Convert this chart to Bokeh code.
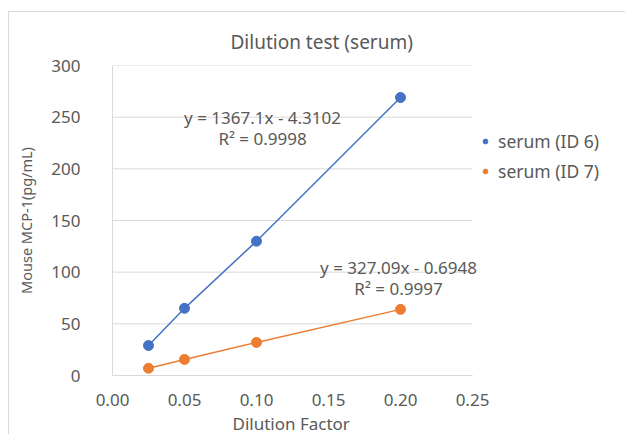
from bokeh.plotting import figure
from bokeh.models import Legend, LegendItem, NumeralTickFormatter, Range1d, FixedTicker, Title
from bokeh.core.properties import value
from bokeh.embed import file_html
from bokeh.resources import INLINE

# ---- data ----
title_text = "Dilution test (serum)"
x_label = "Dilution Factor"
y_label = "Mouse MCP-1(pg/mL)"
dilution = [0.025, 0.05, 0.1, 0.2]
id6_values = [29.0, 65.0, 130.0, 269.0]
id7_values = [7.0, 15.5, 32.0, 64.0]
series_names = ["serum (ID 6)", "serum (ID 7)"]
eq_id6 = ["y = 1367.1x - 4.3102", "R\u00b2 = 0.9998"]
eq_id7 = ["y = 327.09x - 0.6948", "R\u00b2 = 0.9997"]
x_ticks = [0.0, 0.05, 0.10, 0.15, 0.20, 0.25]
y_ticks = [0, 50, 100, 150, 200, 250, 300]
x_min, x_max = 0.0, 0.25
y_min, y_max = 0, 300

FONT = "Noto Sans"
TXT = "#595959"
BLUE = "#4472C4"
ORANGE = "#ED7D31"
GRID = "#d9d9d9"

W, H = 617, 423
LEFT, TOP, BOTTOM = 103, 53, 60
AXIS_PX = 360  # pixel length of the 0..0.25 axis
frame_w = W - LEFT
x_end = x_min + (x_max - x_min) * frame_w / AXIS_PX

p = figure(width=W, height=H, output_backend="svg", toolbar_location=None,
           x_range=Range1d(x_min, x_end), y_range=Range1d(y_min, y_max),
           min_border_left=LEFT, min_border_right=0, min_border_top=TOP,
           min_border_bottom=BOTTOM, background_fill_color="white",
           border_fill_color="white", outline_line_color=None)

p.title.text = title_text
p.title.align = "left"
p.title.offset = 118
p.title.text_font = FONT
p.title.text_font_size = "19px"
p.title.text_font_style = "normal"
p.title.text_color = TXT
p.title.standoff = 21

# axes
p.xaxis.ticker = FixedTicker(ticks=x_ticks)
p.yaxis.ticker = FixedTicker(ticks=y_ticks)
p.xaxis.bounds = (x_min, x_max)
p.xaxis.formatter = NumeralTickFormatter(format="0.00")
for ax in (p.xaxis, p.yaxis):
    ax.major_tick_line_color = None
    ax.minor_tick_line_color = None
    ax.axis_line_color = GRID
    ax.major_label_text_font = FONT
    ax.major_label_text_font_size = "17px"
    ax.major_label_text_color = TXT
    ax.axis_label_text_font = FONT
    ax.axis_label_text_font_style = "normal"
    ax.axis_label_text_color = TXT
p.yaxis.axis_label = y_label
p.yaxis.axis_label_text_font_size = "14.5px"
p.xaxis.major_label_standoff = 12
p.yaxis.major_label_standoff = 26
p.yaxis.axis_label_standoff = 12

# x-axis title, placed under the 0..0.25 axis
xt = Title(text=x_label, align="left", offset=120, text_font=FONT,
           text_font_size="17px", text_font_style="normal", text_color=TXT,
           standoff=2)
p.add_layout(xt, "below")

p.xgrid.grid_line_color = None
p.ygrid.grid_line_color = None
# horizontal gridlines limited to the plotted x interval
p.segment(x0=[x_min] * len(y_ticks), x1=[x_max] * len(y_ticks), y0=y_ticks, y1=y_ticks,
          line_color=GRID, line_width=1)

# series
p.line(dilution, id6_values, line_color=BLUE, line_width=1.5)
s6 = p.scatter(dilution, id6_values, size=10, fill_color=BLUE, line_color=BLUE)
p.line(dilution, id7_values, line_color=ORANGE, line_width=1.5)
s7 = p.scatter(dilution, id7_values, size=10, fill_color=ORANGE, line_color=ORANGE)

# trendline equations
p.text(x=[0.1042, 0.1042], y=[249.7, 229.4], text=eq_id6, text_align="center",
       text_baseline="middle", text_font=value(FONT), text_font_size="17px",
       text_color=TXT)
p.text(x=[0.1986, 0.1986], y=[104.5, 84.2], text=eq_id7, text_align="center",
       text_baseline="middle", text_font=value(FONT), text_font_size="17px",
       text_color=TXT)

legend = Legend(items=[LegendItem(label=series_names[0], renderers=[s6]),
                       LegendItem(label=series_names[1], renderers=[s7])],
                location=(367, 192), orientation="vertical",
                padding=0, margin=0, spacing=6, glyph_width=12, glyph_height=20,
                label_height=20, label_standoff=7,
                label_text_font=FONT, label_text_font_size="17.5px",
                label_text_color=TXT, border_line_color=None,
                background_fill_alpha=0)
p.add_layout(legend, "center")

p.styles = {"margin-left": "8px", "margin-top": "11px",
            "border-left": "1px solid #d9d9d9", "border-top": "1px solid #d9d9d9"}

open("out.html", "w").write(file_html(p, INLINE))
